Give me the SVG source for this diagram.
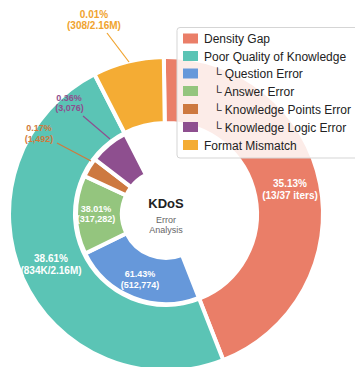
<svg xmlns="http://www.w3.org/2000/svg" width="355" height="367" viewBox="0 0 355 367">
<style>
.w{stroke:#fff;stroke-width:4;stroke-linejoin:miter}
.lw{font-family:"Liberation Sans",Arial,sans-serif;font-weight:bold;fill:#fff;text-anchor:middle}
.o{font-size:10px}
.i{font-size:9px}
.ol{font-family:"Liberation Sans",Arial,sans-serif;font-weight:bold;text-anchor:middle}
.lg{font-family:"Liberation Sans",Arial,sans-serif;font-size:12px;fill:#222}
.ld{stroke-width:1.2;fill:none}
</style>
<rect width="355" height="367" fill="#fff"/>
<g id="density-gap">
<path class="w" fill="#EA7E68" d="M163.81,57.02 A157,157 0 0 1 223.29,360.18 L199.21,298.73 A91,91 0 0 0 164.73,123.01 Z"/>
<text class="lw o" x="290" y="187">35.13%</text>
<text class="lw o" x="290" y="198.5">(13/37 iters)</text>
</g>
<g id="poor-quality">
<path class="w" fill="#5BC4B5" d="M223.29,360.18 A157,157 0 0 1 94.49,74.24 L124.55,132.99 A91,91 0 0 0 199.21,298.73 Z"/>
<text class="lw o" x="51" y="262">38.61%</text>
<text class="lw o" x="51" y="273.5">(834K/2.16M)</text>
</g>
<g id="format-mismatch">
<path class="w" fill="#F4AC34" d="M94.49,74.24 A157,157 0 0 1 163.81,57.02 L164.73,123.01 A91,91 0 0 0 124.55,132.99 Z"/>
<text class="ol o" fill="#F0A32E" x="94" y="17.5">0.01%</text>
<text class="ol o" fill="#F0A32E" x="94" y="29">(308/2.16M)</text>
</g>
<g id="question-error">
<path class="w" fill="#6698DA" d="M198.84,297.80 A90,90 0 0 1 85.11,253.46 L126.45,233.29 A44,44 0 0 0 182.06,254.97 Z"/>
<text class="lw i" x="140" y="277.2">61.43%</text>
<text class="lw i" x="140" y="287.5">(512,774)</text>
</g>
<g id="answer-error">
<path class="w" fill="#94C57E" d="M85.11,253.46 A90,90 0 0 1 84.43,175.97 L126.12,195.41 A44,44 0 0 0 126.45,233.29 Z"/>
<text class="lw i" x="96" y="212.2">38.01%</text>
<text class="lw i" x="96" y="221.5">(317,282)</text>
</g>
<g id="knowledge-points-error">
<path class="w" fill="#CD7940" d="M84.43,175.97 A90,90 0 0 1 94.60,159.21 L131.09,187.21 A44,44 0 0 0 126.12,195.41 Z"/>
<text class="ol i" fill="#D07A3C" x="39" y="130.5">0.17%</text>
<text class="ol i" fill="#D07A3C" x="39" y="141.5">(1,492)</text>
</g>
<g id="knowledge-logic-error">
<path class="w" fill="#8E4F8F" d="M94.60,159.21 A90,90 0 0 1 125.00,133.88 L145.96,174.83 A44,44 0 0 0 131.09,187.21 Z"/>
<text class="ol i" fill="#8E4F8F" x="69" y="100.7">0.36%</text>
<text class="ol i" fill="#8E4F8F" x="69.5" y="110.7">(3,076)</text>
</g>
<g id="connectors">
<line class="ld" stroke="#F0A32E" x1="107" y1="33" x2="129" y2="62"/>
<line class="ld" stroke="#8E4F8F" x1="83" y1="116" x2="110" y2="139"/>
<line class="ld" stroke="#D07A3C" x1="57" y1="143" x2="91" y2="161"/>
</g>
<g id="center">
<text x="166" y="208" font-family="Liberation Sans,Arial,sans-serif" font-weight="bold" font-size="13" fill="#222" text-anchor="middle">KDoS</text>
<text x="166" y="223" font-family="Liberation Sans,Arial,sans-serif" font-size="9" fill="#666" text-anchor="middle">Error</text>
<text x="166" y="233" font-family="Liberation Sans,Arial,sans-serif" font-size="9" fill="#666" text-anchor="middle">Analysis</text>
</g>
<g id="legend">
<rect x="177" y="27.5" width="185" height="130.5" rx="3" fill="#fff" fill-opacity="0.85" stroke="#d5d5d5" stroke-width="1"/>
<rect x="183" y="33.5" width="15" height="10" fill="#EA7E68"/>
<text class="lg" x="204" y="43">Density Gap</text>
<rect x="183" y="51" width="15" height="10" fill="#5BC4B5"/>
<text class="lg" x="204" y="60.5">Poor Quality of Knowledge</text>
<rect x="183" y="68.5" width="15" height="10" fill="#6698DA"/>
<text class="lg" x="213" y="78">└ Question Error</text>
<rect x="183" y="86" width="15" height="10" fill="#94C57E"/>
<text class="lg" x="213" y="95.5">└ Answer Error</text>
<rect x="183" y="104" width="15" height="10" fill="#CD7940"/>
<text class="lg" x="213" y="113.5">└ Knowledge Points Error</text>
<rect x="183" y="122" width="15" height="10" fill="#8E4F8F"/>
<text class="lg" x="213" y="131.5">└ Knowledge Logic Error</text>
<rect x="183" y="140" width="15" height="10" fill="#F4AC34"/>
<text class="lg" x="204" y="149.5">Format Mismatch</text>
</g>
</svg>
